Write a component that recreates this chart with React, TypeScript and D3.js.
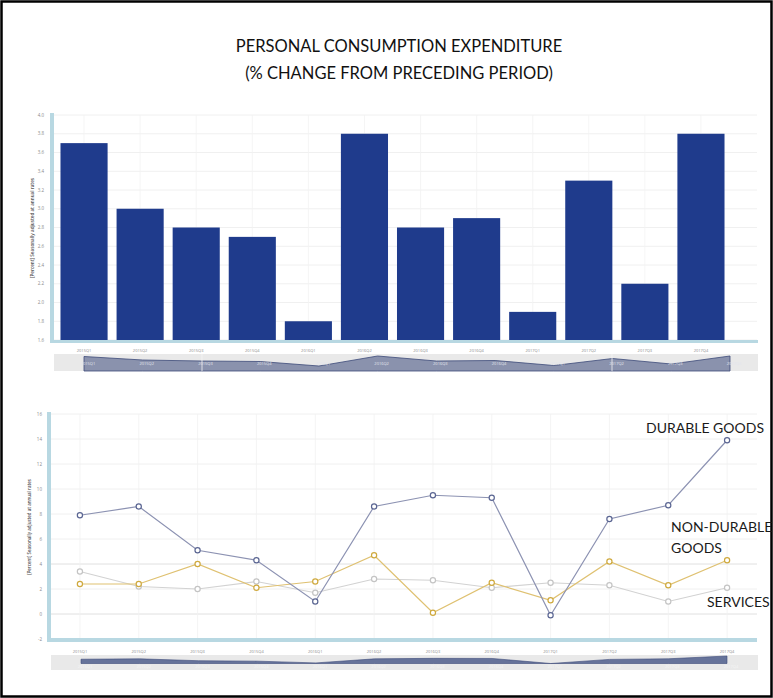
import React from 'react';
import * as d3 from 'd3';

const categories = ['2015Q1','2015Q2','2015Q3','2015Q4','2016Q1','2016Q2','2016Q3','2016Q4','2017Q1','2017Q2','2017Q3','2017Q4'];
const pceValues = [3.7, 3.0, 2.8, 2.7, 1.8, 3.8, 2.8, 2.9, 1.9, 3.3, 2.2, 3.8];
const topTicks = [1.6, 1.8, 2.0, 2.2, 2.4, 2.6, 2.8, 3.0, 3.2, 3.4, 3.6, 3.8, 4.0];
const durableValues = [7.9, 8.6, 5.1, 4.3, 1.0, 8.6, 9.5, 9.3, -0.1, 7.6, 8.7, 13.9];
const nonDurableValues = [2.4, 2.4, 4.0, 2.1, 2.6, 4.7, 0.1, 2.5, 1.1, 4.2, 2.3, 4.3];
const servicesValues = [3.4, 2.2, 2.0, 2.6, 1.7, 2.8, 2.7, 2.1, 2.5, 2.3, 1.0, 2.1];
const bottomTicks = [-2, 0, 2, 4, 6, 8, 10, 12, 14, 16];
const titleLines = ['PERSONAL CONSUMPTION EXPENDITURE', '(% CHANGE FROM PRECEDING PERIOD)'];
const yAxisTitle = '[Percent] Seasonally adjusted at annual rates';

const W = 773, H = 698;
const axisBlue = '#b8d8e2';
const barColor = '#1f3b8c';
const tickFont = 'Open Sans, sans-serif';
const labelFont = 'Lato, "Open Sans", sans-serif';

export default function App() {
  // ---------- top bar chart ----------
  const xTop = d3.scaleBand<string>().domain(categories).range([56, 729]).paddingInner(0.16).paddingOuter(0.08);
  const yTop = d3.scaleLinear().domain([1.6, 4.0]).range([340, 115]);
  const navTopX = d3.scalePoint<string>().domain(categories).range([84, 730]);
  const navTopY = d3.scaleLinear().domain([d3.min(pceValues)!, d3.max(pceValues)!]).range([366, 356]);
  const navTopArea = d3.area<number>()
    .x((_, i) => navTopX(categories[i])!)
    .y0(371)
    .y1(d => navTopY(d));

  // ---------- bottom line chart ----------
  const xBot = d3.scalePoint<string>().domain(categories).range([50.5, 756.5]).padding(0.5);
  const yBot = d3.scaleLinear().domain([-2, 16]).range([639, 414]);
  const line = d3.line<number>().x((_, i) => xBot(categories[i])!).y(d => yBot(d));
  const navBotX = d3.scalePoint<string>().domain(categories).range([81, 727]);
  const navBotY = d3.scaleLinear().domain([d3.min(durableValues)!, d3.max(durableValues)!]).range([663.5, 656]);
  const navBotArea = d3.area<number>()
    .x((_, i) => navBotX(categories[i])!)
    .y0(663.5)
    .y1(d => navBotY(d));

  const series = [
    { values: servicesValues, line: '#d2d2d2', marker: '#c4c4c4' },
    { values: nonDurableValues, line: '#dfc171', marker: '#cfa93e' },
    { values: durableValues, line: '#8c92b2', marker: '#5a6592' },
  ];

  return (
    <svg width={W} height={H} style={{ position: 'absolute', left: 0, top: 0, background: '#fff' }}>
      <rect x={0} y={0} width={W} height={H} fill="#fff" />
      <rect x={1.5} y={1.5} width={W - 3} height={H - 3} fill="none" stroke="#000" strokeWidth={2.5} />

      {/* title */}
      {titleLines.map((t, i) => (
        <text key={t} x={399} y={52 + i * 27} textAnchor="middle" fontFamily={labelFont} fontSize={16.5} fill="#111">{t}</text>
      ))}

      {/* ===== top chart ===== */}
      <g>
        {topTicks.map(t => (
          <line key={'tg' + t} x1={54} x2={757} y1={yTop(t)} y2={yTop(t)} stroke="#ececec" strokeWidth={0.8} />
        ))}
        {categories.map(c => (
          <line key={'tv' + c} x1={xTop(c)! + xTop.bandwidth() / 2} x2={xTop(c)! + xTop.bandwidth() / 2} y1={115} y2={340} stroke="#f2f2f2" strokeWidth={0.8} />
        ))}
        {topTicks.map(t => (
          <text key={'tl' + t} x={44} y={yTop(t) + 1.5} textAnchor="end" fontFamily={tickFont} fontSize={4.5} fill="#8a8a8a">{t.toFixed(1)}</text>
        ))}
        <text transform={`translate(34,228) rotate(-90)`} textAnchor="middle" fontFamily={tickFont} fontSize={4.6} fontWeight={600} fill="#555">{yAxisTitle}</text>
        {pceValues.map((v, i) => (
          <rect key={'b' + i} x={xTop(categories[i])} y={yTop(v)} width={xTop.bandwidth()} height={yTop(1.6) - yTop(v)} fill={barColor} />
        ))}
        <line x1={52} x2={52} y1={113} y2={343} stroke={axisBlue} strokeWidth={4} />
        <line x1={50} x2={758} y1={341.5} y2={341.5} stroke={axisBlue} strokeWidth={3} />
        {categories.map(c => (
          <text key={'tx' + c} x={xTop(c)! + xTop.bandwidth() / 2} y={352} textAnchor="middle" fontFamily={tickFont} fontSize={4} fill="#8a8a8a">{c}</text>
        ))}
        {/* navigator */}
        <rect x={54} y={354} width={704} height={17} fill="#e9e9e9" />
        <path d={navTopArea(pceValues)!} fill="#8a92ad" stroke="#3c4a78" strokeWidth={0.8} />
        <line x1={202} x2={202} y1={354} y2={371} stroke="#f4f4f4" strokeWidth={0.8} />
        <line x1={612} x2={612} y1={354} y2={371} stroke="#f4f4f4" strokeWidth={0.8} />
        {categories.map(c => (
          <text key={'tn' + c} x={navTopX(c)! + 4} y={365} textAnchor="middle" fontFamily={tickFont} fontSize={4} fill="#e4e6ee">{c}</text>
        ))}
      </g>

      {/* ===== bottom chart ===== */}
      <g>
        {bottomTicks.map(t => (
          <line key={'bg' + t} x1={50} x2={757} y1={yBot(t)} y2={yBot(t)} stroke={t === 0 || t === 4 ? '#dcdcdc' : '#eeeeee'} strokeWidth={0.9} />
        ))}
        {categories.map(c => (
          <line key={'bv' + c} x1={xBot(c)} x2={xBot(c)} y1={414} y2={639} stroke="#f1f1f1" strokeWidth={0.8} />
        ))}
        {bottomTicks.map(t => (
          <text key={'bl' + t} x={42} y={yBot(t) + 1.5} textAnchor="end" fontFamily={tickFont} fontSize={4.5} fill="#8a8a8a">{t}</text>
        ))}
        <text transform={`translate(31,527) rotate(-90)`} textAnchor="middle" fontFamily={tickFont} fontSize={4.4} fontWeight={600} fill="#555">{yAxisTitle}</text>
        {series.map((s, si) => (
          <g key={'s' + si}>
            <path d={line(s.values)!} fill="none" stroke={s.line} strokeWidth={1.2} />
            {s.values.map((v, i) => (
              <circle key={i} cx={xBot(categories[i])} cy={yBot(v)} r={2.6} fill="#fff" stroke={s.marker} strokeWidth={1.2} />
            ))}
          </g>
        ))}
        <line x1={49} x2={49} y1={412} y2={642} stroke={axisBlue} strokeWidth={4} />
        <line x1={47} x2={757} y1={640} y2={640} stroke={axisBlue} strokeWidth={4} />
        {categories.map(c => (
          <text key={'bx' + c} x={xBot(c)} y={653} textAnchor="middle" fontFamily={tickFont} fontSize={4} fill="#8a8a8a">{c}</text>
        ))}
        {/* navigator */}
        <rect x={51} y={655} width={707} height={15} fill="#e9e9e9" />
        <path d={navBotArea(durableValues)!} fill="#66739a" stroke="#3c4a78" strokeWidth={0.6} />
        {categories.map(c => (
          <text key={'bn' + c} x={navBotX(c)! + 4} y={668} textAnchor="middle" fontFamily={tickFont} fontSize={4} fill="#f6f6f6">{c}</text>
        ))}

        {/* annotations */}
        <text x={646} y={433} fontFamily={labelFont} fontSize={14} fill="#1a1a1a">DURABLE GOODS</text>
        <text x={671} y={532} fontFamily={labelFont} fontSize={14} fill="#1a1a1a">NON-DURABLE</text>
        <text x={671} y={553} fontFamily={labelFont} fontSize={14} fill="#1a1a1a">GOODS</text>
        <text x={707} y={607} fontFamily={labelFont} fontSize={14} fill="#1a1a1a">SERVICES</text>
      </g>
    </svg>
  );
}
